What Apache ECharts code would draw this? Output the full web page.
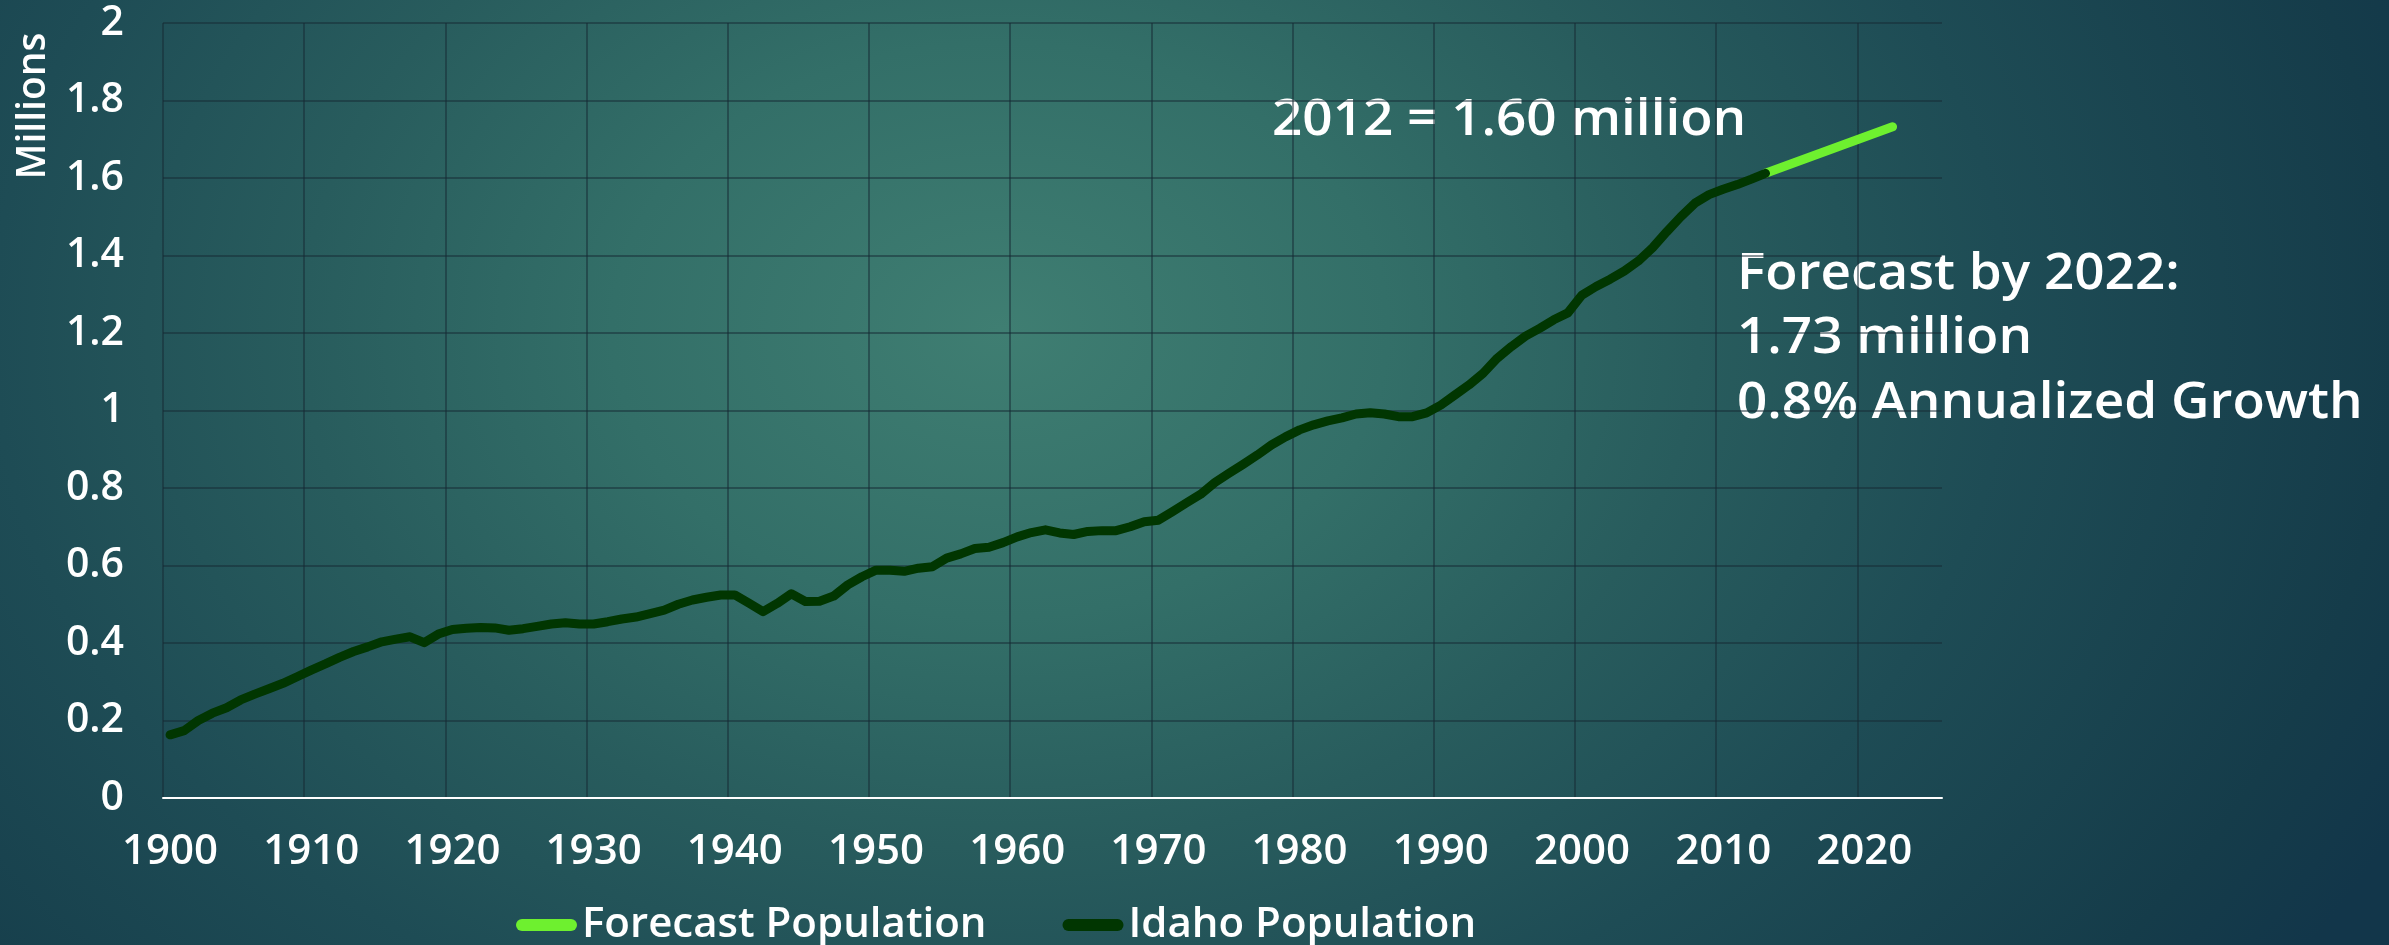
<!DOCTYPE html>
<html>
<head>
<meta charset="utf-8">
<title>Idaho Population</title>
<script src="https://cdn.jsdelivr.net/npm/echarts@6/dist/echarts.min.js"></script>
<style>
    html, body { margin: 0; padding: 0; }
    #chart {
        width: 2389px;
        height: 945px;
        background: radial-gradient(ellipse 1550px 1150px at 1000px 330px,
            #3f7e72 0%, #336f68 25%, #285c5d 45%, #1e4c55 65%, #153c4a 90%, #12364a 100%);
    }
</style>
</head>
<body>
<div id="chart"></div>
<script>
const FIRST_YEAR = 1900;
const LAST_YEAR = 2025;

// Idaho population, millions, one value per year from 1900 to 2013
const idahoPopulation = [
    0.163, 0.174, 0.200, 0.219, 0.233, 0.253, 0.268, 0.282, 0.296, 0.313,
    0.330, 0.346, 0.363, 0.378, 0.390, 0.403, 0.410, 0.416, 0.401, 0.423,
    0.435, 0.438, 0.440, 0.439, 0.433, 0.437, 0.443, 0.449, 0.452, 0.449,
    0.449, 0.455, 0.462, 0.467, 0.476, 0.485, 0.500, 0.511, 0.518, 0.524,
    0.524, 0.503, 0.481, 0.502, 0.527, 0.507, 0.508, 0.521, 0.550, 0.571,
    0.588, 0.588, 0.585, 0.593, 0.597, 0.619, 0.630, 0.644, 0.647, 0.659,
    0.674, 0.685, 0.692, 0.684, 0.680, 0.688, 0.690, 0.690, 0.700, 0.713,
    0.717, 0.739, 0.762, 0.784, 0.814, 0.838, 0.861, 0.885, 0.911, 0.932,
    0.950, 0.963, 0.973, 0.981, 0.991, 0.994, 0.991, 0.984, 0.984, 0.994,
    1.014, 1.040, 1.066, 1.096, 1.135, 1.165, 1.192, 1.212, 1.234, 1.252,
    1.298, 1.320, 1.339, 1.360, 1.386, 1.420, 1.461, 1.500, 1.535, 1.557,
    1.571, 1.583, 1.597, 1.612
];

// forecast line: from the last estimate to 2022
const forecastYears = ['2013', '2022'];
const forecastValues = [1.612, 1.732];

const yTicks = { min: 0, max: 2, step: 0.2 };

const legendNames = ['Forecast Population', 'Idaho Population'];

const noteLatest = '2012 = 1.60 million';
const noteForecast = ['Forecast by 2022:', '1.73 million', '0.8% Annualized Growth'];

const years = [];
for (let y = FIRST_YEAR; y <= LAST_YEAR; y++) years.push(String(y));

const FONT = '"Open Sans", "Noto Sans", sans-serif';
const WEIGHT = 600;
const DARK_GREEN = '#013601';
const LIGHT_GREEN = '#6ef02f';
const GRID_COLOR = 'rgba(22, 42, 52, 0.5)';

const chart = echarts.init(document.getElementById('chart'));

// the slide text is a little wider than Open Sans, stretch it a bit
const note = (text, x, y) => ({
    type: 'text',
    x: x,
    y: y,
    scaleX: 1.04,
    style: {
        text: text,
        fill: '#ffffff',
        font: `${WEIGHT} 51px ${FONT}`,
        verticalAlign: 'top'
    }
});

const option = {
    animation: false,
    backgroundColor: 'transparent',
    textStyle: { fontFamily: FONT, fontWeight: WEIGHT },
    grid: {
        left: 163,
        right: 447,
        top: 23,
        bottom: 147
    },
    legend: {
        data: legendNames,
        left: 511,
        top: 899,
        itemWidth: 61,
        itemHeight: 12,
        itemGap: 76,
        icon: 'path://M6,0 H55 A6,6 0 0 1 55,12 H6 A6,6 0 0 1 6,0 Z',
        textStyle: { color: '#ffffff', fontSize: 42, fontFamily: FONT, fontWeight: WEIGHT }
    },
    xAxis: {
        type: 'category',
        data: years,
        boundaryGap: true,
        axisLine: { lineStyle: { color: '#ffffff', width: 2 } },
        axisTick: { show: false, interval: 9 },
        axisLabel: {
            interval: 9,
            color: '#ffffff',
            fontSize: 42,
            fontFamily: FONT,
            fontWeight: WEIGHT,
            margin: 33
        },
        splitLine: {
            show: true,
            interval: 9,
            showMaxLine: false,
            lineStyle: { color: GRID_COLOR, width: 2 }
        }
    },
    yAxis: {
        type: 'value',
        min: yTicks.min,
        max: yTicks.max,
        interval: yTicks.step,
        axisLine: { show: false },
        axisTick: { show: false },
        axisLabel: {
            color: '#ffffff',
            fontSize: 41,
            fontFamily: FONT,
            fontWeight: WEIGHT,
            margin: 39
        },
        splitLine: { lineStyle: { color: GRID_COLOR, width: 2 } }
    },
    series: [
        {
            name: legendNames[0],
            type: 'line',
            data: forecastYears.map((y, i) => [y, forecastValues[i]]),
            showSymbol: false,
            connectNulls: true,
            itemStyle: { color: LIGHT_GREEN },
            lineStyle: { color: LIGHT_GREEN, width: 9, cap: 'round' },
            z: 2
        },
        {
            name: legendNames[1],
            type: 'line',
            data: idahoPopulation,
            showSymbol: false,
            itemStyle: { color: DARK_GREEN },
            lineStyle: { color: DARK_GREEN, width: 9, cap: 'round', join: 'round' },
            z: 3
        }
    ],
    graphic: [
        {
            type: 'text',
            x: 34,
            y: 106,
            rotation: Math.PI / 2,
            style: {
                text: 'Millions',
                fill: '#ffffff',
                font: `${WEIGHT} 39px ${FONT}`,
                align: 'center',
                verticalAlign: 'middle'
            }
        },
        note(noteLatest, 1272, 95),
        note(noteForecast[0], 1737, 249),
        note(noteForecast[1], 1737, 313),
        note(noteForecast[2], 1737, 378)
    ]
};

chart.setOption(option);
</script>
</body>
</html>
